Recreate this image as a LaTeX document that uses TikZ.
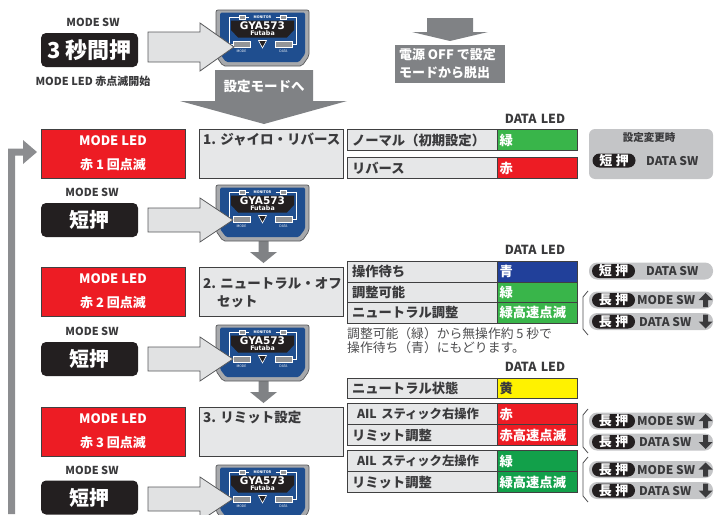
\documentclass[tikz,border=0pt]{standalone}
\usepackage{fontspec}
\setmainfont{Noto Sans CJK JP}
\newfontfamily\logofont{DejaVu Sans}
\definecolor{arrgray}{HTML}{808285}
\definecolor{lightarr}{HTML}{E1E2E3}
\definecolor{arredge}{HTML}{58595B}
\definecolor{ledred}{HTML}{ED1C24}
\definecolor{cellgray}{HTML}{E6E7E8}
\definecolor{edge}{HTML}{404041}
\definecolor{ink}{HTML}{231F20}
\definecolor{textgray}{HTML}{3A3A3C}
\definecolor{notegray}{HTML}{4D4D4F}
\definecolor{pillgray}{HTML}{C4C5C7}
\definecolor{ledgreen}{HTML}{39B54A}
\definecolor{ledgreenB}{HTML}{12A04A}
\definecolor{ledblue}{HTML}{21409A}
\definecolor{ledyellow}{HTML}{FFF200}
\definecolor{devblue}{HTML}{1F4E8F}
\definecolor{devgray}{HTML}{A7A9AC}
\definecolor{devedge}{HTML}{58595B}
\definecolor{btngray}{HTML}{939598}
\definecolor{bargray}{HTML}{8C8D90}
\begin{document}
\begin{tikzpicture}[x=1pt,y=-1pt,
  lbl/.style={font=\fontsize{11}{12}\selectfont\bfseries, text=textgray, inner sep=0},
  modeled/.style={draw=edge, line width=1, fill=ledred, minimum width=144, minimum height=49,
    inner sep=0, text=white, align=center, font=\fontsize{13}{24}\selectfont\bfseries},
  stepbox/.style={draw=edge, line width=1, fill=cellgray, minimum width=144, minimum height=49, inner sep=0},
  steptext/.style={anchor=west, inner sep=0, font=\fontsize{13.5}{15}\selectfont\bfseries, text=textgray},
  pressbox/.style={fill=ink, rounded corners=5, minimum width=97, minimum height=34, inner sep=0,
    text=white, font=\fontsize{20}{22}\selectfont\bfseries},
  lcell/.style={draw=edge, line width=1.1, fill=cellgray, anchor=north west, text width=141,
    inner xsep=4.5, inner ysep=0, minimum height=21, align=left,
    font=\fontsize{13.3}{14}\selectfont\bfseries, text=textgray},
  rcell/.style={draw=edge, line width=1.1, anchor=north west, text width=76, inner xsep=2,
    inner ysep=0, minimum height=21, align=left, font=\fontsize{13.3}{14}\selectfont\bfseries, text=white},
  ledhead/.style={font=\fontsize{12.5}{14}\selectfont\bfseries, text=textgray, inner sep=0},
  pill/.style={fill=pillgray, rounded corners=8, minimum width=124, minimum height=17, inner sep=0},
  keypill/.style={fill=ink, rounded corners=7, minimum width=43, minimum height=14, inner sep=0,
    text=white, font=\fontsize{13}{14}\selectfont\bfseries},
  swtext/.style={anchor=west, inner sep=0, font=\fontsize{12}{13}\selectfont\bfseries, text=textgray},
  bracket/.style={draw=notegray, line width=0.8},
  % the GYA573 gyro unit, origin at its top left corner
  gya/.pic={
    \filldraw[fill=devgray, draw=devedge, line width=.7, rounded corners=2]
      (0,0) -- (93,0) -- (93,46) -- (86,56) -- (7,56) -- (0,46) -- cycle;
    \fill[devblue, rounded corners=1.5]
      (4,2.5) -- (89,2.5) -- (89,44) -- (83,52) -- (10,52) -- (4,44) -- cycle;
    \draw[white, line width=.6] (23,7.3) -- (13,7.3) -- (13,34) -- (17,34);
    \draw[white, line width=.6] (70,7.3) -- (80,7.3) -- (80,34) -- (76,34);
    \draw[white, line width=.6] (29,7.3) -- (33,7.3) (60,7.3) -- (64,7.3);
    \filldraw[fill=btngray, draw=white, line width=.4] (23,5.5) rectangle (29,9.1);
    \filldraw[fill=btngray, draw=white, line width=.4] (64,5.5) rectangle (70,9.1);
    \node[text=white, inner sep=0, font=\fontsize{3.6}{4}\selectfont\bfseries] at (46.5,7.4) {MONITOR};
    \fill[ink] (15,10.5) -- (78,10.5) -- (78,20) -- (71,27.5) -- (22,27.5) -- (15,20) -- cycle;
    \node[text=white, inner sep=0, font=\logofont\fontsize{10.5}{11}\selectfont\bfseries] at (46.5,15.6) {GYA573};
    \node[text=white, inner sep=0, font=\logofont\fontsize{6.3}{7}\selectfont\bfseries] at (46.5,23.6) {Futaba};
    \filldraw[fill=btngray, draw=white, line width=.6] (17,31) rectangle (34,37);
    \filldraw[fill=btngray, draw=white, line width=.6] (59,31) rectangle (76,37);
    \filldraw[fill=ink, draw=white, line width=.6] (42.5,30.5) -- (50.5,30.5) -- (46.5,38) -- cycle;
    \node[text=white, inner sep=0, font=\fontsize{3.4}{4}\selectfont] at (25.5,41.5) {MODE};
    \node[text=white, inner sep=0, font=\fontsize{3.4}{4}\selectfont] at (67.5,41.5) {DATA};
  },
  % light block arrow pressing the MODE button, origin at the shaft's left middle
  pressarrow/.pic={
    \filldraw[fill=lightarr, draw=arredge, line width=.8, line join=miter]
      (0,-12) -- (52,-12) -- (52,-22) -- (85,0) -- (52,22) -- (52,12) -- (0,12) -- cycle;
  },
  % small gray arrow between steps, origin at the top of the shaft
  stepdown/.pic={
    \fill[arrgray] (-5,0) -- (5,0) -- (5,12) -- (13.5,12) -- (0,23) -- (-13.5,12) -- (-5,12) -- cycle;
  },
  upglyph/.pic={
    \fill[textgray] (0,-7) -- (7,0) -- (2.5,0) -- (2.5,7) -- (-2.5,7) -- (-2.5,0) -- (-7,0) -- cycle;
  },
  downglyph/.pic={
    \fill[textgray] (0,7) -- (7,0) -- (2.5,0) -- (2.5,-7) -- (-2.5,-7) -- (-2.5,0) -- (-7,0) -- cycle;
  },
]
\useasboundingbox (0,0) rectangle (722,514);

% ---------- entering the setting mode ----------
\node[lbl] (msw0) at (93,22) {MODE SW};
\node[pressbox, font=\fontsize{22}{24}\selectfont\bfseries] (p0) at (89.5,50) {3 秒間押};
\node[lbl] (start) at (93,81) {MODE LED 赤点滅開始};
\pic at (216,10) {gya};
\filldraw[fill=lightarr, draw=arredge, line width=.8, line join=miter]
  (148,32) -- (200,32) -- (200,23) -- (234,47) -- (200,71) -- (200,62) -- (148,62) -- cycle;

% big arrow into the setting mode
\fill[arrgray] (215,70) -- (313,70) -- (313,101) -- (347,101) -- (264,124) -- (180,101) -- (215,101) -- cycle;
\node[text=white, inner sep=0, font=\fontsize{13.5}{15}\selectfont\bfseries] (enter) at (264,86) {設定モードへ};

% leaving the setting mode
\fill[arrgray] (427,18) -- (473,18) -- (473,32) -- (488,32) -- (450,41) -- (412,32) -- (427,32) -- cycle;
\node[fill=arrgray, text=white, minimum width=110, minimum height=38, inner sep=0, align=left,
  font=\fontsize{13}{18}\selectfont\bfseries] (exit) at (450,64)
  {\makebox[102pt][l]{電源 OFF で設定}\\\makebox[102pt][l]{モードから脱出}};

% return path from the last step back to the first
\fill[bargray] (8,514) -- (8,148.5) -- (23,148.5) -- (23,140) -- (37,152) -- (23,164) -- (23,155.5) -- (15,155.5) -- (15,514) -- cycle;

% ---------- step arrows ----------
\pic at (263.5,240) {stepdown};
\pic at (263.5,380) {stepdown};

% ---------- step 1 ----------
\node[modeled] (led1) at (113,153.5) {MODE LED\\赤 1 回点滅};
\node[stepbox] (s1) at (271,153.5) {};
\node[steptext] (s1t) at (203,139) {1. ジャイロ・リバース};
\node[lbl] (msw1) at (92,192) {MODE SW};
\node[pressbox] (p1) at (89.5,220) {短押};
\pic at (216,185) {gya};
\pic at (148,220) {pressarrow};

\node[ledhead] (h1) at (535,119) {DATA\,\,LED};
\node[lcell] (c11) at (347,129) {ノーマル（初期設定）};
\node[rcell, fill=ledgreen] (d11) at (497,129) {緑};
\node[lcell] (c12) at (347,157) {リバース};
\node[rcell, fill=ledred] (d12) at (497,157) {赤};

\node[fill=pillgray, rounded corners=6, minimum width=124, minimum height=50, inner sep=0] (chg) at (651,154) {};
\node[inner sep=0, font=\fontsize{10.5}{12}\selectfont\bfseries, text=textgray] (chgt) at (649,138) {設定変更時};
\node[keypill] (k1) at (614,160.5) {短\hspace{3.5pt}押};
\node[swtext] (k1t) at (646,161) {DATA SW};

% ---------- step 2 ----------
\node[modeled] (led2) at (113,291.5) {MODE LED\\赤 2 回点滅};
\node[stepbox] (s2) at (271,291.5) {};
\node[steptext] (s2t) at (203,283) {2. ニュートラル・オフ};
\node[steptext] (s2u) at (217,302) {セット};
\node[lbl] (msw2) at (92,331) {MODE SW};
\node[pressbox] (p2) at (89.5,359) {短押};
\pic at (216,325) {gya};
\pic at (148,359) {pressarrow};

\node[ledhead] (h2) at (535,250) {DATA\,\,LED};
\node[lcell, minimum height=20.5] (c21) at (347,261) {操作待ち};
\node[rcell, minimum height=20.5, fill=ledblue] (d21) at (497,261) {青};
\node[lcell, minimum height=20.5] (c22) at (347,281.5) {調整可能};
\node[rcell, minimum height=20.5, fill=ledgreen] (d22) at (497,281.5) {緑};
\node[lcell, minimum height=20.5] (c23) at (347,302) {ニュートラル調整};
\node[rcell, minimum height=20.5, fill=ledgreen] (d23) at (497,302) {緑高速点滅};
\node[anchor=north west, inner sep=0, align=left, text=notegray,
  font=\fontsize{12.8}{13.5}\selectfont] (note) at (347,327.5)
  {調整可能（緑）から無操作約 5 秒で\\操作待ち（青）にもどります。};

\node[pill] (q21) at (651,271) {};
\node[keypill] (k21) at (613.5,271) {短\hspace{3.5pt}押};
\node[swtext] (k21t) at (646,271.5) {DATA SW};

\draw[bracket] (588,291) -- (583,297) -- (583,329) -- (588,335);
\node[pill] (q22) at (651,300) {};
\node[keypill] (k22) at (613.5,300) {長\hspace{3.5pt}押};
\node[swtext] (k22t) at (637,300.5) {MODE SW};
\pic at (705.5,300) {upglyph};
\node[pill] (q23) at (651,321.5) {};
\node[keypill] (k23) at (613.5,321.5) {長\hspace{3.5pt}押};
\node[swtext] (k23t) at (639,322) {DATA SW};
\pic at (705.5,321.5) {downglyph};

% ---------- step 3 ----------
\node[modeled] (led3) at (113,431.5) {MODE LED\\赤 3 回点滅};
\node[stepbox] (s3) at (271,431.5) {};
\node[steptext] (s3t) at (203,417) {3. リミット設定};
\node[lbl] (msw3) at (92,470) {MODE SW};
\node[pressbox] (p3) at (89.5,497.5) {短押};
\pic at (216,465) {gya};
\pic at (148,499) {pressarrow};

\node[ledhead] (h3) at (535,367) {DATA\,\,LED};
\node[lcell, minimum height=20] (c31) at (347,378) {ニュートラル状態};
\node[rcell, minimum height=20, fill=ledyellow, text=textgray] (d31) at (497,378) {黄};
\node[lcell] (c32) at (347,403) {\hspace*{5pt}{\fontsize{12.3}{14}\selectfont AIL スティック右操作}};
\node[rcell, fill=ledred] (d32) at (497,403) {赤};
\node[lcell] (c33) at (347,424) {リミット調整};
\node[rcell, fill=ledred] (d33) at (497,424) {赤高速点滅};
\node[lcell] (c34) at (347,450) {\hspace*{5pt}{\fontsize{12.3}{14}\selectfont AIL スティック左操作}};
\node[rcell, fill=ledgreenB] (d34) at (497,450) {緑};
\node[lcell] (c35) at (347,471) {リミット調整};
\node[rcell, fill=ledgreenB] (d35) at (497,471) {緑高速点滅};

\draw[bracket] (588,409) -- (583,415) -- (583,447) -- (588,453);
\node[pill] (q31) at (651,421) {};
\node[keypill] (k31) at (613.5,421) {長\hspace{3.5pt}押};
\node[swtext] (k31t) at (637,421.5) {MODE SW};
\pic at (705.5,421) {upglyph};
\node[pill] (q32) at (651,442) {};
\node[keypill] (k32) at (613.5,442) {長\hspace{3.5pt}押};
\node[swtext] (k32t) at (639,442.5) {DATA SW};
\pic at (705.5,442) {downglyph};

\draw[bracket] (588,457) -- (583,463) -- (583,496) -- (588,502);
\node[pill] (q33) at (651,469.5) {};
\node[keypill] (k33) at (613.5,469.5) {長\hspace{3.5pt}押};
\node[swtext] (k33t) at (637,470) {MODE SW};
\pic at (705.5,469.5) {upglyph};
\node[pill] (q34) at (651,490.5) {};
\node[keypill] (k34) at (613.5,490.5) {長\hspace{3.5pt}押};
\node[swtext] (k34t) at (639,491) {DATA SW};
\pic at (705.5,490.5) {downglyph};
\end{tikzpicture}
\end{document}
